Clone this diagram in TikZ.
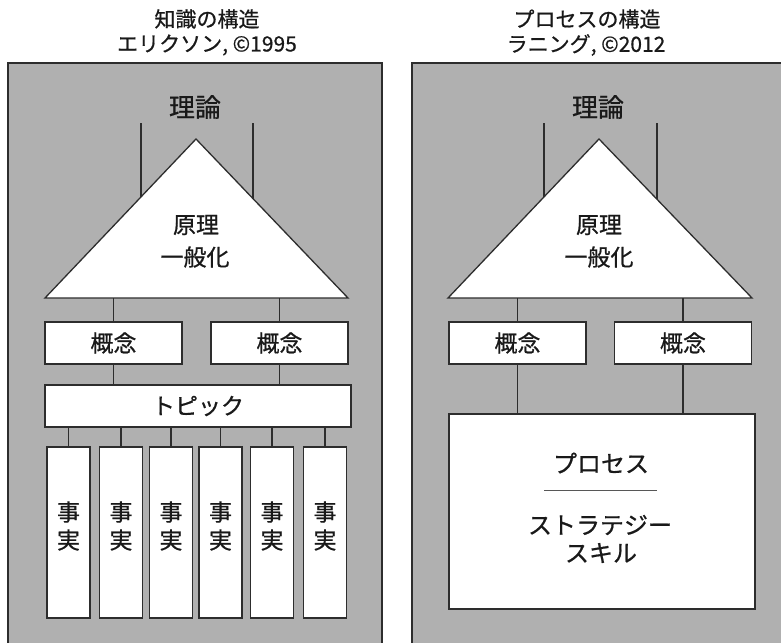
\documentclass[tikz,border=0pt]{standalone}
\usepackage{fontspec}
\setmainfont{Noto Sans CJK JP}[FakeBold=0.7]
\definecolor{panel}{RGB}{176,176,176}
\definecolor{ink}{RGB}{45,45,45}
\tikzset{
  box/.style={draw=ink, line width=1.3pt, fill=white, inner sep=0pt, line join=miter},
  conn/.style={draw=ink, line width=1.3pt},
  title/.style={font=\fontsize{21}{24}\selectfont, inner sep=0pt, text=black!90},
  theo/.style={font=\fontsize{26}{30}\selectfont, inner sep=0pt, text=black!90},
  lbl/.style={font=\fontsize{23}{28}\selectfont, inner sep=0pt, text=black!90, align=center},
  plbl/.style={font=\fontsize{24}{28}\selectfont, inner sep=0pt, text=black!90, align=center},
  cbox/.style={box, minimum width=137pt, minimum height=42pt, font=\fontsize{23}{28}\selectfont, text=black!90},
  wbox/.style={box, minimum width=306pt, minimum height=42pt, font=\fontsize{23}{28}\selectfont, text=black!90},
  fbox/.style={box, minimum width=43pt, minimum height=171pt}
}
\begin{document}
\begin{tikzpicture}[x=1pt,y=-1pt]
\useasboundingbox (0,0) rectangle (781,642);
% panels
\fill[panel] (8,63) rectangle (382,648);
\draw[conn] (8,648) -- (8,63) -- (382,63) -- (382,648);
\fill[panel] (412,63) rectangle (790,648);
\draw[conn] (412,648) -- (412,63) -- (790,63);

% ---------- left ----------
\node[title] (t1) at (207,19) {知識の構造};
\node[title] (t1b) at (207,45) {エリクソン, ©1995};
\node[theo] (th1) at (195,107) {理論};
\coordinate (v1a) at (141,123); \coordinate (v1b) at (141,240);
\coordinate (v2a) at (253,123); \coordinate (v2b) at (253,240);
\draw[conn] (v1a) -- (v1b);
\draw[conn] (v2a) -- (v2b);
\coordinate (apex1) at (196,139);
\coordinate (bl1) at (45,298);
\coordinate (br1) at (348,298);
\draw[box] (apex1) -- (br1) -- (bl1) -- cycle;
\node[lbl] (pr1) at (196,225) {原理};
\node[lbl] (ge1) at (195,257) {一般化};

\node[cbox] (c1) at (113.5,343) {概念};
\node[cbox] (c2) at (279.5,343) {概念};
\draw[conn] (c1.north |- bl1) -- (c1.north);
\draw[conn] (c2.north |- bl1) -- (c2.north);

\node[wbox] (tp) at (198,406) {トピック};
\draw[conn] (c1.south) -- (c1.south |- tp.north);
\draw[conn] (c2.south) -- (c2.south |- tp.north);

\foreach \i/\x in {1/68.5,2/121,3/171,4/220.5,5/272,6/325}{
  \node[fbox] (f\i) at (\x,532.5) {};
  \node[lbl] (ft\i) at (\x,526) {事\\実};
  \draw[conn] (f\i.north) -- (f\i.north |- tp.south);
}

% ---------- right ----------
\node[title] (t2) at (587,19) {プロセスの構造};
\node[title] (t2b) at (586,45) {ラニング, ©2012};
\node[theo] (th2) at (598,107) {理論};
\coordinate (v3a) at (544,123); \coordinate (v3b) at (544,240);
\coordinate (v4a) at (657,123); \coordinate (v4b) at (657,240);
\draw[conn] (v3a) -- (v3b);
\draw[conn] (v4a) -- (v4b);
\coordinate (apex2) at (599,139);
\coordinate (bl2) at (448,298);
\coordinate (br2) at (752,298);
\draw[box] (apex2) -- (br2) -- (bl2) -- cycle;
\node[lbl] (pr2) at (599,225) {原理};
\node[lbl] (ge2) at (599,257) {一般化};

\node[cbox] (c3) at (517.5,343) {概念};
\node[cbox] (c4) at (683,343) {概念};
\draw[conn] (c3.north |- bl2) -- (c3.north);
\draw[conn] (c4.north |- bl2) -- (c4.north);

\node[box, minimum width=306pt, minimum height=195pt] (pb) at (602,511.5) {};
\draw[conn] (c3.south) -- (c3.south |- pb.north);
\draw[conn] (c4.south) -- (c4.south |- pb.north);

\node[plbl] (ps) at (601,463) {プロセス};
\coordinate (sl) at (544,490); \coordinate (sr) at (657,490);
\draw[draw=ink!80, line width=1pt] (sl) -- (sr);
\node[plbl] (st) at (600,525) {ストラテジー};
\node[plbl] (sk) at (601,553) {スキル};
\end{tikzpicture}
\end{document}
